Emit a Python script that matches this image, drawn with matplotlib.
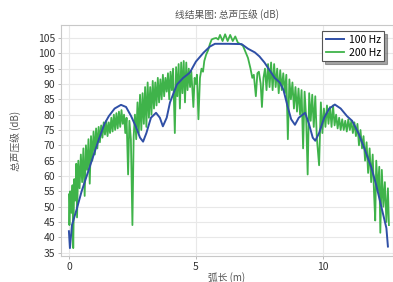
import matplotlib
matplotlib.use("Agg")
import matplotlib.pyplot as plt

plt.rcParams['font.family'] = ['Noto Sans CJK SC', 'DejaVu Sans']

# 100 Hz curve (arc length m, level dB)
x100 = [0.0, 0.04, 0.12, 0.3, 0.5, 0.7, 0.9, 1.18, 1.4, 1.57, 1.8, 2.05, 2.25, 2.45,
        2.64, 2.8, 2.92, 3.05, 3.23, 3.43, 3.58, 3.7, 3.85, 3.98, 4.25, 4.5, 4.76,
        5.0, 5.3, 5.55, 5.75, 6.25, 6.8, 7.05, 7.32, 7.5, 7.7, 7.9, 8.1, 8.3, 8.45,
        8.6, 8.75, 8.9, 9.05, 9.3, 9.45, 9.6, 9.7, 9.85, 10.05, 10.25, 10.47, 10.7,
        10.95, 11.15, 11.4, 11.65, 11.9, 12.1, 12.3, 12.5, 12.56]
y100 = [42, 36.5, 44, 49, 55, 60, 65, 72, 77, 79.5, 82, 83.2, 82.5, 79.5,
        76, 72.5, 71.2, 74, 79, 80.6, 79, 76.2, 79, 84, 89.8, 92, 93.7,
        97.3, 100.2, 102.2, 103.1, 103.1, 103, 101.5, 100.3, 99, 97, 94.5, 92, 90.5, 88,
        83, 78.5, 76.7, 79, 80.6, 77, 72.5, 71.5, 74, 79, 82, 83.3, 82,
        79.5, 78, 74, 68.6, 63, 57, 50, 43, 37]

# 200 Hz curve
x200 = [0.00, 0.02, 0.05, 0.10, 0.14, 0.17, 0.21, 0.25, 0.29, 0.32, 0.37, 0.42, 0.47,
        0.52, 0.57, 0.62, 0.67, 0.72, 0.77, 0.82, 0.87, 0.92, 0.97, 1.02, 1.07, 1.12,
        1.17, 1.22, 1.27, 1.32, 1.37, 1.42, 1.47, 1.52, 1.57, 1.62, 1.67, 1.72, 1.77,
        1.82, 1.87, 1.92, 1.97, 2.02, 2.07, 2.12, 2.17, 2.22, 2.27, 2.33, 2.38, 2.44,
        2.50, 2.55, 2.60, 2.65, 2.70, 2.75, 2.80, 2.85, 2.90, 2.95, 3.00, 3.05, 3.10,
        3.15, 3.20, 3.25, 3.30, 3.35, 3.40, 3.45, 3.50, 3.55, 3.60, 3.65, 3.70, 3.75,
        3.80, 3.85, 3.90, 3.95, 4.00, 4.05, 4.10, 4.17, 4.22, 4.27, 4.32, 4.37, 4.42,
        4.47, 4.52, 4.57, 4.62, 4.67, 4.72, 4.77, 4.82, 4.90, 4.95, 5.00, 5.04, 5.10,
        5.16, 5.22, 5.28, 5.33, 5.40, 5.48, 5.55, 5.62, 5.70, 5.80, 5.88, 5.95, 6.05,
        6.15, 6.25, 6.35, 6.45, 6.55, 6.65, 6.75, 6.85, 6.95, 7.05, 7.15, 7.22, 7.28,
        7.36, 7.42, 7.48, 7.55, 7.60, 7.66, 7.72, 7.78, 7.84, 7.90, 7.96, 8.02, 8.08,
        8.14, 8.20, 8.26, 8.32, 8.38, 8.44, 8.50, 8.56, 8.62, 8.68, 8.74, 8.80, 8.86,
        8.92, 8.98, 9.04, 9.10, 9.16, 9.22, 9.28, 9.34, 9.40, 9.46, 9.52, 9.58, 9.64,
        9.70, 9.76, 9.85, 9.92, 9.98, 10.04, 10.10, 10.16, 10.22, 10.28, 10.34, 10.40,
        10.46, 10.52, 10.58, 10.64, 10.70, 10.76, 10.82, 10.88, 10.94, 11.00, 11.06,
        11.12, 11.18, 11.24, 11.30, 11.36, 11.42, 11.48, 11.54, 11.60, 11.66, 11.72,
        11.78, 11.84, 11.90, 11.96, 12.02, 12.06, 12.10, 12.16, 12.22, 12.26, 12.32,
        12.38, 12.44, 12.50, 12.56, 12.60]
y200 = [54, 44, 55, 48, 57, 36.5, 59, 52, 64, 46.5, 65, 56, 67,
        58, 69, 53.5, 70, 62, 72, 57.5, 73, 65, 74.5, 67, 75.5, 69,
        76, 71, 76.5, 72.5, 77.5, 73.5, 78, 73, 77.5, 74, 79, 74.5, 80,
        75, 80.5, 75.5, 81, 76, 81.5, 77, 80, 74, 79, 60.5, 78, 72,
        44, 73, 80, 72, 84, 74, 86.5, 75, 87, 77, 89, 76, 90.5,
        79, 89, 80, 91, 82, 90.5, 83, 92, 84, 91.5, 85, 93, 86,
        92, 87.5, 93.5, 85, 94, 88, 95, 74, 95.5, 86, 96.5, 82, 97,
        87, 97.5, 84, 97, 88, 95, 89, 94, 82.5, 92, 90, 93, 78.5,
        92, 95, 94, 97.5, 99.5, 101, 103, 104.5, 104.8, 105, 104.5, 106, 104,
        106.2, 104, 106, 104, 105.5, 103.5, 103, 102.5, 100.5, 98.5, 95, 92, 93,
        86, 93.5, 94, 90, 82.5, 92, 95, 88, 96.5, 89, 97, 88, 96.5,
        89, 95, 87, 94.5, 88, 93.5, 87, 93, 72, 91.5, 85, 90.5, 82,
        89, 81, 88.5, 80, 88, 69, 87.5, 79, 60.5, 87, 78, 86.5, 76,
        86, 72.5, 63.5, 84, 74, 82, 76, 83, 77, 82.5, 76, 83,
        76.5, 80, 75.5, 79, 75, 78.5, 75, 78, 74.5, 78.5, 75,
        78, 74, 77.5, 73, 77, 70, 75, 69, 73, 65, 71,
        61, 69, 58, 67, 53, 45.5, 65, 55, 63, 41.5, 62,
        50, 58, 45, 56, 44]

xticks = [0, 5, 10]
yticks = [35, 40, 45, 50, 55, 60, 65, 70, 75, 80, 85, 90, 95, 100, 105]

fig = plt.figure(figsize=(3.93, 2.82), dpi=100)
ax = fig.add_axes([0.155, 0.092, 0.845, 0.819])

ax.plot(x100, y100, color='#2f4fa6', lw=1.4, label='100 Hz', zorder=3)
ax.plot(x200, y200, color='#3fb34a', lw=1.3, label='200 Hz', zorder=2)

ax.set_xlim(-0.315, 12.76)
ax.set_ylim(33.9, 109.2)
ax.set_xticks(xticks)
ax.set_yticks(yticks)
ax.grid(True, color='#e8e8e8', lw=0.8)
ax.set_axisbelow(True)
for s in ax.spines.values():
    s.set_color('#c8c8c8')
ax.tick_params(labelsize=7.5, colors='#333333', length=2.5, width=0.6, pad=1.5)
ax.tick_params(axis='both', color='#b0b0b0')

ax.set_title('线结果图: 总声压级 (dB)', fontsize=7, color='#555555', pad=5)
ax.set_xlabel('弧长 (m)', fontsize=7, color='#555555', labelpad=0)
ax.xaxis.set_label_coords(0.5, -0.07)
ax.set_ylabel('总声压级 (dB)', fontsize=7, color='#555555', labelpad=12)

leg = ax.legend(loc='upper right', fontsize=7.5, frameon=True, fancybox=False,
                shadow=True, handlelength=1.8, borderpad=0.35, labelspacing=0.25,
                handletextpad=0.4, bbox_to_anchor=(0.99, 0.995))
leg.get_frame().set_edgecolor('#555555')
leg.get_frame().set_linewidth(0.8)

fig.savefig('out.png', dpi=100)
